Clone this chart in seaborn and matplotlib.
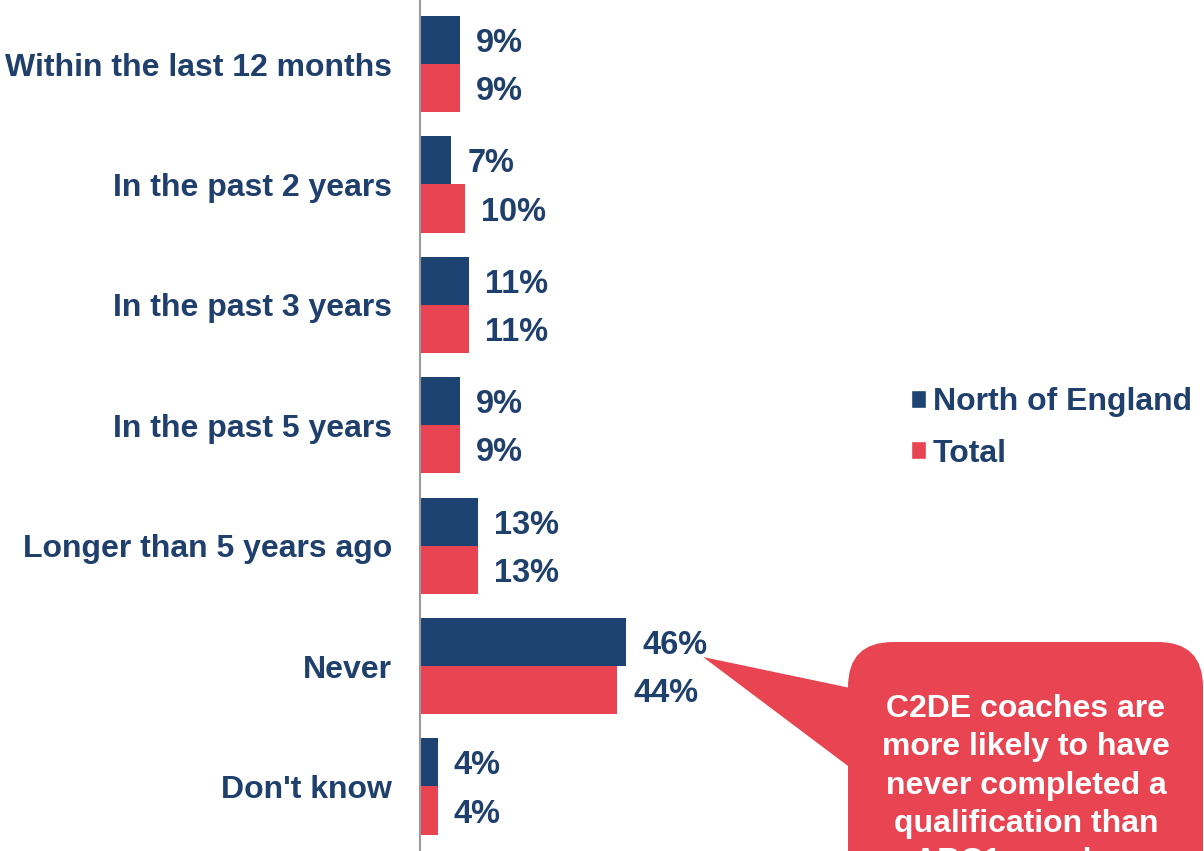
import pandas as pd
import matplotlib.pyplot as plt
import seaborn as sns
from matplotlib.patches import FancyBboxPatch, Polygon, Patch

# ========== DATA ==========
categories = ["Within the last 12 months", "In the past 2 years", "In the past 3 years",
              "In the past 5 years", "Longer than 5 years ago", "Never", "Don't know"]
north = [9, 7, 11, 9, 13, 46, 4]
total = [9, 10, 11, 9, 13, 44, 4]
series = ["North of England", "Total"]
callout = "C2DE coaches are\nmore likely to have\nnever completed a\nqualification than\nABC1 coaches"

NAVY = "#1C4372"
RED = "#E84452"
TEXT = "#1F3F6C"

df = pd.DataFrame({
    "Category": categories * 2,
    "Value": north + total,
    "Series": [series[0]] * len(categories) + [series[1]] * len(categories),
})

# ========== PLOT ==========
sns.set_style("white")
plt.rcParams["font.family"] = ["Liberation Sans", "DejaVu Sans"]

W, H = 1204, 851
fig = plt.figure(figsize=(W / 100, H / 100), dpi=100)
ax = fig.add_axes([420 / W, 0, 1 - 420 / W, 1])

sns.barplot(data=df, y="Category", x="Value", hue="Series", orient="h",
            palette=[NAVY, RED], width=0.8, saturation=1, linewidth=0,
            ax=ax, legend=False)

ax.set_xlim(0, (W - 420) / 4.48)
ax.set_ylim(6.536, -0.532)
ax.set_xlabel("")
ax.set_ylabel("")
ax.set_xticks([])
for s in ["top", "right", "bottom"]:
    ax.spines[s].set_visible(False)
ax.spines["left"].set_color("#999999")
ax.spines["left"].set_linewidth(1.5)
ax.tick_params(axis="y", length=0, pad=20)
for lbl in ax.get_yticklabels():
    lbl.set_fontsize(23)
    lbl.set_fontweight("bold")
    lbl.set_color(TEXT)

for cont in ax.containers:
    texts = ax.bar_label(cont, labels=[f"{int(v)}%" for v in cont.datavalues], padding=11.5,
                         fontsize=23.5, fontweight="bold", color=TEXT)
    for t in texts:
        t.set_va("center_baseline")

handles = [Patch(facecolor=NAVY), Patch(facecolor=RED)]
leg = fig.legend(handles, series, loc="center left", bbox_to_anchor=(911 / W, 1 - 428 / H),
                 frameon=False, fontsize=23, handlelength=0.47, handleheight=0.47,
                 handletextpad=0.22, labelspacing=0.66, borderaxespad=0, borderpad=0)
for t in leg.get_texts():
    t.set_color(TEXT)
    t.set_fontweight("bold")

# callout bubble in pixel coordinates
ov = fig.add_axes([0, 0, 1, 1], facecolor="none")
ov.set_xlim(0, W)
ov.set_ylim(H, 0)
ov.axis("off")
ov.add_patch(Polygon([(703, 657), (860, 690), (860, 775)], closed=True,
                     facecolor=RED, edgecolor="none"))
ov.add_patch(FancyBboxPatch((848, 642), 355, 330, boxstyle="round,pad=0,rounding_size=45",
                            facecolor=RED, edgecolor="none"))
ov.text(1026, 694, callout, ha="center", va="top", color="white", fontsize=23,
        fontweight="bold", linespacing=1.36)

plt.savefig("out.png", dpi=100)
